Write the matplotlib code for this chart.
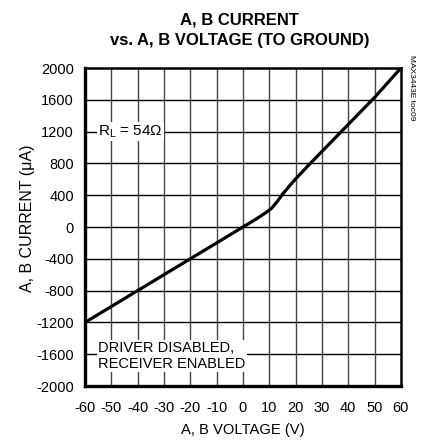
import matplotlib.pyplot as plt

# --- data ---
voltage = [-60, -40, -20, 0, 5, 8, 10, 11, 13, 15, 18, 20, 25, 30, 40, 50, 60]
current = [-1200, -800, -400, 0, 100, 165, 212, 240, 320, 410, 530, 605, 780, 950, 1290, 1630, 2000]

x_ticks = [-60, -50, -40, -30, -20, -10, 0, 10, 20, 30, 40, 50, 60]
y_ticks = [-2000, -1600, -1200, -800, -400, 0, 400, 800, 1200, 1600, 2000]

plt.rcParams['font.family'] = ['Liberation Sans', 'DejaVu Sans']
plt.rcParams['axes.unicode_minus'] = False

fig = plt.figure(figsize=(4.22, 4.44), dpi=100)
ax = fig.add_axes([0.2014, 0.1306, 0.7486, 0.7162])

ax.set_xlim(-60, 60)
ax.set_ylim(-2000, 2000)
ax.set_xticks(x_ticks)
ax.set_yticks(y_ticks)
ax.tick_params(length=0, labelsize=10.5)
ax.tick_params(axis='x', pad=11)
ax.tick_params(axis='y', pad=8)

# grid: horizontal black, vertical dark gray
for y in y_ticks[1:-1]:
    ax.axhline(y, color="black", lw=1.0, zorder=1)
for x in x_ticks[1:-1]:
    ax.axvline(x, color="#444444", lw=1.0, zorder=1)

ax.plot(voltage, current, color="black", lw=2.3, zorder=3, solid_capstyle='butt')

for side in ['left', 'bottom']:
    ax.spines[side].set_linewidth(2.4)
for side in ['top', 'right']:
    ax.spines[side].set_linewidth(1.8)

ax.text(-55, 1200, "R$_\\mathregular{L}$ = 54Ω", fontsize=11, ha='left', va='center',
        bbox=dict(facecolor='white', edgecolor='none', pad=1), zorder=4)
ax.text(-55, -1620, "DRIVER DISABLED,\nRECEIVER ENABLED", fontsize=10.5, ha='left', va='center',
        linespacing=1.15, bbox=dict(facecolor='white', edgecolor='none', pad=1), zorder=4)

fig.text(0.568, 0.972, "A, B CURRENT\nvs. A, B VOLTAGE (TO GROUND)", ha='center', va='top',
         fontsize=12, fontweight='bold', linespacing=1.45)
fig.text(0.066, 0.509, "A, B CURRENT (μA)", rotation=90, ha='center', va='center', fontsize=11.5)
fig.text(0.576, 0.015, "A, B VOLTAGE (V)", ha='center', va='bottom', fontsize=10.6)
fig.text(0.976, 0.877, "MAX3443E toc09", rotation=270, ha='center', va='top', fontsize=6)

fig.savefig("out.png", dpi=100, facecolor="white")
